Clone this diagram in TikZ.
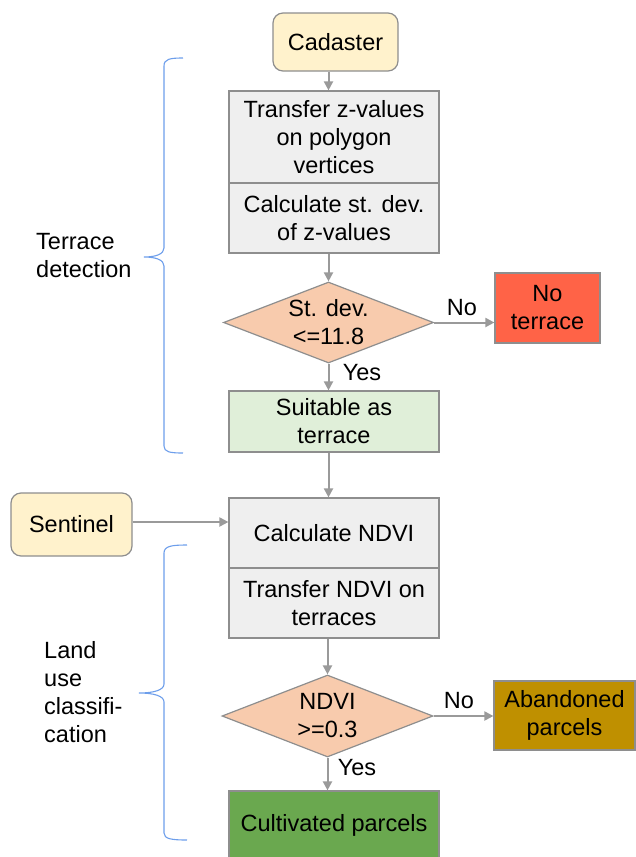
\documentclass[tikz,border=0pt]{standalone}
\usepackage{fontspec}
\setmainfont{Liberation Sans}
\usetikzlibrary{shapes.geometric,arrows.meta}
\definecolor{bordc}{HTML}{8E8E8E}
\definecolor{arrc}{HTML}{9A9A9A}
\definecolor{srcfill}{HTML}{FFF2CC}
\definecolor{procfill}{HTML}{EFEFEF}
\definecolor{decfill}{HTML}{F8CBAD}
\definecolor{redfill}{HTML}{FF6347}
\definecolor{okfill}{HTML}{E0EFD9}
\definecolor{abfill}{HTML}{BF9000}
\definecolor{cultfill}{HTML}{6AA84F}
\definecolor{bracec}{HTML}{6D9EEB}
\tikzset{
  x=1pt,y=1pt,
  every node/.style={font=\fontsize{23.5}{28}\selectfont, text=black},
  srcbox/.style={draw=bordc, line width=1.2pt, fill=srcfill, rounded corners=10pt, align=center, inner sep=0pt},
  procbox/.style={draw=bordc, line width=1.2pt, fill=procfill, minimum width=210pt, align=center, inner sep=0pt},
  decbox/.style={draw=bordc, line width=1.2pt, fill=decfill, diamond, aspect=2.6, inner sep=0pt, align=center, minimum width=210pt, minimum height=81pt},
  resbox/.style={draw=bordc, line width=1.2pt, align=center, inner sep=0pt},
  conn/.style={draw=arrc, line width=2pt, -{Triangle[length=9pt,width=9pt]}},
  bracep/.style={draw=bracec, line width=1.1pt},
  lbl/.style={inner sep=0pt}
}
\begin{document}
\begin{tikzpicture}
\useasboundingbox (0,0) rectangle (636,-857);
% nodes
\node[srcbox, minimum width=125pt, minimum height=58pt] (cad) at (335.5,-42) {Cadaster};
\node[procbox, minimum height=92pt] (tz) at (334,-137) {Transfer z-values\\on polygon\\vertices};
\node[procbox, minimum height=70pt] (sd) at (334,-218) {Calculate st. dev.\\of z-values};
\node[decbox] (d1) at (328.5,-322.5) {St. dev.\\<=11.8};
\node[resbox, fill=redfill, minimum width=105pt, minimum height=70pt] (nt) at (547.5,-308) {No\\terrace};
\node[resbox, fill=okfill, minimum width=210pt, minimum height=61pt] (st) at (334,-421.5) {Suitable as\\terrace};
\node[procbox, minimum height=70pt] (nd) at (334,-533) {Calculate NDVI};
\node[procbox, minimum height=70pt] (tn) at (334,-603) {Transfer NDVI on\\terraces};
\node[srcbox, minimum width=121pt, minimum height=63pt] (sen) at (71.5,-524.5) {Sentinel};
\node[decbox, minimum width=211pt, minimum height=82pt] (d2) at (327.5,-716) {NDVI\\>=0.3};
\node[resbox, fill=abfill, minimum width=141pt, minimum height=69pt] (ab) at (564.5,-715.5) {Abandoned\\parcels};
\node[resbox, fill=cultfill, minimum width=210pt, minimum height=68pt] (cu) at (334,-825) {Cultivated parcels};
% connectors
\draw[conn] (cad.south -| d1.north) -- (tz.north -| d1.north);
\draw[conn] (sd.south -| d1.north) -- (d1.north);
\draw[conn] (d1.east) -- (d1.east -| nt.west);
\draw[conn] (d1.south) -- (st.north -| d1.south);
\draw[conn] (st.south -| d1.south) -- (nd.north -| d1.south);
\draw[conn] (sen.east |- 0,-522) -- (nd.west |- 0,-522);
\draw[conn] (tn.south -| d2.north) -- (d2.north);
\draw[conn] (d2.east) -- (d2.east -| ab.west);
\draw[conn] (d2.south) -- (cu.north -| d2.south);
% edge labels
\node[lbl] (no1) at (462,-308) {No};
\node[lbl] (yes1) at (362,-373) {Yes};
\node[lbl] (no2) at (459,-701) {No};
\node[lbl] (yes2) at (357,-768) {Yes};
% braces
\draw[bracep] (183,-58) .. controls (170,-58) and (164,-59) .. (164,-66)
  -- (164,-248) .. controls (164,-254) and (156,-257) .. (144,-257)
  .. controls (156,-257) and (164,-260) .. (164,-266)
  -- (164,-446) .. controls (164,-452) and (170,-453) .. (183,-453);
\draw[bracep] (187,-545) .. controls (172,-545) and (164,-546) .. (164,-553)
  -- (164,-684) .. controls (164,-690) and (154,-693) .. (139,-693)
  .. controls (154,-693) and (164,-696) .. (164,-702)
  -- (164,-833) .. controls (164,-839) and (172,-840) .. (187,-840);
% group labels
\node[lbl, align=left, anchor=west] (tdl) at (36,-256) {Terrace\\detection};
\node[lbl, align=left, anchor=west] (lul) at (44,-692) {Land\\use\\classifi-\\cation};
\end{tikzpicture}
\end{document}
